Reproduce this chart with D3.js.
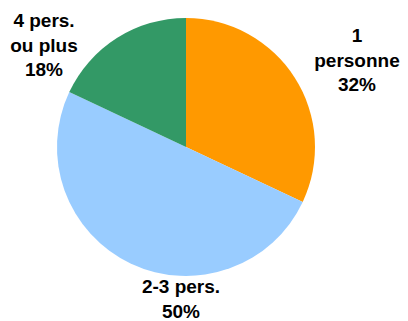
<!DOCTYPE html>
<html>
<head>
<meta charset="utf-8">
<script src="https://cdn.jsdelivr.net/npm/d3@7"></script>
<style>
  html, body { margin: 0; padding: 0; background: #fff; }
  svg { display: block; }
  text { font-family: "Liberation Sans", Arial, sans-serif; font-weight: bold; font-size: 19px; fill: #000; }
</style>
</head>
<body>
<svg id="chart" width="408" height="321"></svg>
<script>
// Household size shares
const categories = ["1 personne", "2-3 pers.", "4 pers. ou plus"];
const labelLines = [["1", "personne"], ["2-3 pers."], ["4 pers.", "ou plus"]];
const shares = [32, 50, 18];
const colors = ["#FF9900", "#99CCFF", "#339966"];

const width = 408, height = 321;
const cx = 186, cy = 147, radius = 129;

const svg = d3.select("#chart");
const g = svg.append("g").attr("transform", `translate(${cx},${cy})`);

const pie = d3.pie().value(d => d).sort(null);
const arc = d3.arc().innerRadius(0).outerRadius(radius);
const arcs = pie(shares);

g.selectAll("path.slice")
  .data(arcs)
  .join("path")
  .attr("class", "slice")
  .attr("d", arc)
  .attr("fill", (d, i) => colors[i]);

// Label anchors (centre x, first baseline y) relative to the pie centre
const labelPos = [
  { x: 171, y: -105 },
  { x: -5, y: 146 },
  { x: -142, y: -120 }
];
const lineHeight = 24.5;

arcs.forEach((d, i) => {
  const lines = labelLines[i].concat([d3.format("d")(shares[i]) + "%"]);
  const t = g.append("text")
    .attr("text-anchor", "middle")
    .attr("x", labelPos[i].x)
    .attr("y", labelPos[i].y);
  lines.forEach((ln, k) => {
    t.append("tspan")
      .attr("x", labelPos[i].x)
      .attr("y", labelPos[i].y + k * lineHeight)
      .text(ln);
  });
});
</script>
</body>
</html>
